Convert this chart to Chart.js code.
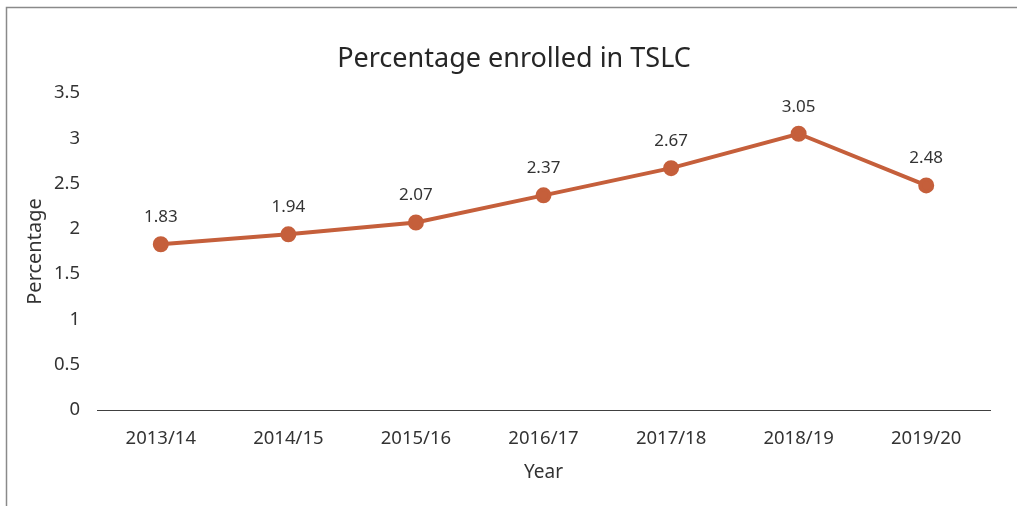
<!DOCTYPE html>
<html>
<head>
<meta charset="utf-8">
<script src="https://cdn.jsdelivr.net/npm/chart.js@4/dist/chart.umd.min.js"></script>
<style>
  html, body { margin: 0; padding: 0; background: #fff; }
  #wrap { width: 1017px; height: 506px; position: relative; }
</style>
</head>
<body>
<div id="wrap"><canvas id="chart" width="1017" height="506"></canvas></div>
<script>
const years = ['2013/14', '2014/15', '2015/16', '2016/17', '2017/18', '2018/19', '2019/20'];
const percentEnrolled = [1.83, 1.94, 2.07, 2.37, 2.67, 3.05, 2.48];
const yTicks = [0, 0.5, 1, 1.5, 2, 2.5, 3, 3.5];

const FONT = "'Noto Sans', sans-serif";
const lineColor = '#C55F3B';
const chartTitle = 'Percentage enrolled in TSLC';

// frame around the chart and the title (centred on the whole frame, not the plot)
const framePlugin = {
    id: 'frame',
    beforeDraw(chart) {
        const ctx = chart.ctx;
        ctx.save();
        ctx.strokeStyle = '#8a8a8a';
        ctx.lineWidth = 1.5;
        ctx.beginPath();
        ctx.moveTo(6.5, 506);
        ctx.lineTo(6.5, 7.5);
        ctx.lineTo(1017, 7.5);
        ctx.stroke();

        ctx.font = '27px ' + FONT;
        ctx.fillStyle = '#262626';
        ctx.textAlign = 'center';
        ctx.textBaseline = 'middle';
        ctx.fillText(chartTitle, 514, 59);
        ctx.restore();
    }
};

// value labels above the points
const labelPlugin = {
    id: 'valueLabels',
    afterDatasetsDraw(chart) {
        const ctx = chart.ctx;
        const meta = chart.getDatasetMeta(0);
        ctx.save();
        ctx.font = '17px ' + FONT;
        ctx.fillStyle = '#333333';
        ctx.textAlign = 'center';
        ctx.textBaseline = 'middle';
        meta.data.forEach((pt, i) => {
            ctx.fillText(String(percentEnrolled[i]), pt.x, pt.y - 27);
        });
        ctx.restore();
    }
};

new Chart(document.getElementById('chart'), {
    type: 'line',
    data: {
        labels: years,
        datasets: [{
            label: 'Percentage',
            data: percentEnrolled,
            borderColor: lineColor,
            backgroundColor: lineColor,
            borderWidth: 4,
            pointRadius: 6,
            pointHoverRadius: 6,
            tension: 0,
            fill: false
        }]
    },
    options: {
        responsive: false,
        animation: false,
        layout: { padding: { left: 0, right: 27, top: 93, bottom: 0 } },
        plugins: {
            legend: { display: false },
            tooltip: { enabled: false },
            title: { display: false }
        },
        scales: {
            x: {
                offset: true,
                grid: { display: false, drawTicks: false },
                border: { display: true, color: '#404040', width: 1 },
                ticks: { color: '#333333', font: { family: FONT, size: 18.5 }, padding: 18 },
                title: {
                    display: true, text: 'Year', color: '#333333',
                    font: { family: FONT, size: 19 }, padding: { top: 0, bottom: 22 }
                },
                afterFit(scale) { scale.height = 96; }
            },
            y: {
                min: 0,
                max: 3.5,
                afterBuildTicks(scale) { scale.ticks = yTicks.map(v => ({ value: v })); },
                grid: { display: false, drawTicks: false },
                border: { display: false },
                ticks: {
                    color: '#333333', font: { family: FONT, size: 18.5 }, padding: 17,
                    callback: v => String(v)
                },
                title: {
                    display: true, text: 'Percentage', color: '#333333',
                    font: { family: FONT, size: 20 }, padding: { top: 23, bottom: 0 }
                },
                afterFit(scale) { scale.width = 97; }
            }
        }
    },
    plugins: [framePlugin, labelPlugin]
});
</script>
</body>
</html>
